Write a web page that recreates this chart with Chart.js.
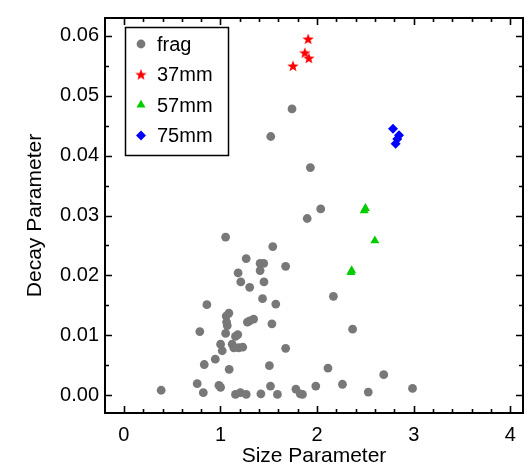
<!DOCTYPE html>
<html>
<head>
<meta charset="utf-8">
<script src="https://cdn.jsdelivr.net/npm/chart.js@4.4.1/dist/chart.umd.min.js"></script>
<style>
  html, body { margin: 0; padding: 0; background: #fff; }
  #chart { display: block; }
</style>
</head>
<body>
<canvas id="chart" width="529" height="466"></canvas>
<script>
// datos
const fragX = [0.386, 0.759, 0.822, 0.832, 0.946, 0.786, 0.859, 0.984, 1.001, 1.001,
  1.018, 1.090, 1.053, 1.070, 1.063, 1.059, 1.087, 1.053, 1.155, 1.206,
  1.266, 1.418, 1.182, 1.210, 1.266, 1.302, 1.278, 1.302, 1.343, 1.410,
  1.447, 1.410, 1.450, 1.435, 1.179, 1.155, 1.121, 1.138, 1.189, 1.230,
  1.541, 1.674, 1.572, 1.532, 1.674, 1.506, 1.517, 1.589, 1.780, 1.825,
  1.848, 1.986, 2.168, 2.112, 2.262, 2.367, 2.529, 2.689, 2.987, 1.740,
  1.520, 1.930, 2.037, 1.897];
const fragY = [0.0008, 0.0019, 0.0004, 0.0051, 0.0060, 0.0106, 0.0151, 0.0016, 0.0013, 0.0085,
  0.0074, 0.0043, 0.0103, 0.0116, 0.0122, 0.0132, 0.0137, 0.0264, 0.0001, 0.0004,
  0.0001, 0.0002, 0.0204, 0.0189, 0.0228, 0.0180, 0.0122, 0.0124, 0.0127, 0.0220,
  0.0220, 0.0208, 0.0189, 0.0161, 0.0101, 0.0098, 0.0085, 0.0079, 0.0079, 0.0080,
  0.0248, 0.0215, 0.0152, 0.0119, 0.0078, 0.0049, 0.0015, 0.0001, 0.0010, 0.0002,
  0.0001, 0.0015, 0.0165, 0.0045, 0.0018, 0.0110, 0.0005, 0.0034, 0.0011, 0.0478,
  0.0432, 0.0380, 0.0311, 0.0295];

const mm37X = [1.907, 1.873, 1.914, 1.750];
const mm37Y = [0.0595, 0.0572, 0.0563, 0.0550];

const mm57X = [2.487, 2.500, 2.597, 2.350, 2.357];
const mm57Y = [0.0308, 0.0312, 0.0258, 0.0205, 0.0208];

const mm75X = [2.785, 2.847, 2.829, 2.812];
const mm75Y = [0.0445, 0.0434, 0.0428, 0.0420];

const xTickValues = [0, 1, 2, 3, 4];
const yTickValues = [0, 0.01, 0.02, 0.03, 0.04, 0.05, 0.06];
const xMinorStep = 0.2;
const yMinorStep = 0.005;

const toPoints = (xs, ys) => xs.map((x, i) => ({ x: x, y: ys[i] }));

// estrella rellena (la 'star' de Chart.js es solo lineas)
function makeStar(color, size) {
    const c = document.createElement('canvas');
    c.width = size; c.height = size;
    const g = c.getContext('2d');
    const cx = size / 2, cy = size / 2 + 0.5;
    const R = size / 2, r = R * 0.42;
    g.beginPath();
    for (let i = 0; i < 10; i++) {
        const rad = i % 2 === 0 ? R : r;
        const a = -Math.PI / 2 + i * Math.PI / 5;
        g.lineTo(cx + rad * Math.cos(a), cy + rad * Math.sin(a));
    }
    g.closePath();
    g.fillStyle = color;
    g.fill();
    return c;
}
const starImg = makeStar('#ff0000', 12);

const FONT = "'Liberation Sans', Arial, sans-serif";

// marco con ticks hacia adentro en los cuatro lados
const framePlugin = {
    id: 'frame',
    afterDraw(chart) {
        const { ctx, chartArea: a, scales: { x, y } } = chart;
        ctx.save();
        ctx.strokeStyle = '#000';
        ctx.lineWidth = 1.6;
        const major = 7, minor = 4;
        const near = (v, list) => list.some(t => Math.abs(t - v) < 1e-9);

        for (let v = Math.ceil(x.min / xMinorStep) * xMinorStep; v <= x.max + 1e-9; v += xMinorStep) {
            const vv = Math.round(v * 1000) / 1000;
            const px = Math.round(x.getPixelForValue(vv)) + 0.5;
            const len = near(vv, xTickValues) ? major : minor;
            ctx.beginPath();
            ctx.moveTo(px, a.bottom); ctx.lineTo(px, a.bottom - len);
            ctx.moveTo(px, a.top); ctx.lineTo(px, a.top + len);
            ctx.stroke();
        }
        for (let v = Math.ceil(y.min / yMinorStep) * yMinorStep; v <= y.max + 1e-9; v += yMinorStep) {
            const vv = Math.round(v * 100000) / 100000;
            const py = Math.round(y.getPixelForValue(vv)) + 0.5;
            const len = near(vv, yTickValues) ? major : minor;
            ctx.beginPath();
            ctx.moveTo(a.left, py); ctx.lineTo(a.left + len, py);
            ctx.moveTo(a.right, py); ctx.lineTo(a.right - len, py);
            ctx.stroke();
        }
        ctx.lineWidth = 2;
        ctx.strokeRect(a.left, a.top, a.right - a.left, a.bottom - a.top);
        ctx.restore();
    }
};

// leyenda dentro del area del grafico
const legendBoxPlugin = {
    id: 'legendBox',
    afterDraw(chart) {
        const { ctx } = chart;
        const box = { x: 125, y: 27, w: 103, h: 128 };
        ctx.save();
        ctx.fillStyle = '#fff';
        ctx.fillRect(box.x, box.y, box.w, box.h);
        ctx.strokeStyle = '#000';
        ctx.lineWidth = 1.5;
        ctx.strokeRect(box.x + 0.5, box.y + 0.5, box.w, box.h);
        ctx.font = '20px ' + FONT;
        ctx.textBaseline = 'middle';
        ctx.textAlign = 'left';
        chart.data.datasets.forEach((ds, i) => {
            const cy = 44 + i * 30.5;
            ctx.fillStyle = ds.backgroundColor;
            Chart.helpers.drawPoint(ctx, {
                pointStyle: ds.pointStyle,
                radius: ds.pointRadius,
                rotation: 0,
                borderWidth: 0
            }, 141, cy);
            ctx.fillStyle = '#000';
            ctx.fillText(ds.label, 157, cy + 1);
        });
        ctx.restore();
    }
};

new Chart(document.getElementById('chart').getContext('2d'), {
    type: 'scatter',
    data: {
        datasets: [
            { label: 'frag', data: toPoints(fragX, fragY), pointStyle: 'circle', pointRadius: 4.4,
              backgroundColor: 'rgb(120,120,120)', borderWidth: 0 },
            { label: '37mm', data: toPoints(mm37X, mm37Y), pointStyle: starImg, pointRadius: 6,
              backgroundColor: '#ff0000', borderWidth: 0 },
            { label: '57mm', data: toPoints(mm57X, mm57Y), pointStyle: 'triangle', pointRadius: 5.2,
              backgroundColor: '#00cc00', borderWidth: 0 },
            { label: '75mm', data: toPoints(mm75X, mm75Y), pointStyle: 'rectRot', pointRadius: 5,
              backgroundColor: '#0000ff', borderWidth: 0 }
        ]
    },
    options: {
        responsive: false,
        devicePixelRatio: 1,
        animation: false,
        layout: { padding: { top: 9, right: 2, left: 0, bottom: 0 } },
        plugins: {
            legend: { display: false },
            tooltip: { enabled: false }
        },
        scales: {
            x: {
                type: 'linear',
                min: -0.195,
                max: 4.13,
                afterBuildTicks: s => { s.ticks = xTickValues.map(v => ({ value: v })); },
                afterFit: s => { s.height = 53; },
                grid: { display: false, drawTicks: false },
                border: { display: false },
                ticks: {
                    color: '#000',
                    padding: 10,
                    font: { family: FONT, size: 20 },
                    callback: v => String(v)
                },
                title: {
                    display: true,
                    text: 'Size Parameter',
                    color: '#000',
                    font: { family: FONT, size: 21 },
                    padding: { top: 0, bottom: -3 }
                }
            },
            y: {
                type: 'linear',
                min: -0.003,
                max: 0.063,
                afterBuildTicks: s => { s.ticks = yTickValues.map(v => ({ value: v })); },
                afterFit: s => { s.width = 105; },
                grid: { display: false, drawTicks: false },
                border: { display: false },
                ticks: {
                    color: '#000',
                    padding: 6,
                    font: { family: FONT, size: 20 },
                    callback: v => v.toFixed(2)
                },
                title: {
                    display: true,
                    text: 'Decay Parameter',
                    color: '#000',
                    font: { family: FONT, size: 21 },
                    padding: { top: 23, bottom: 0 }
                }
            }
        }
    },
    plugins: [framePlugin, legendBoxPlugin]
});
</script>
</body>
</html>
